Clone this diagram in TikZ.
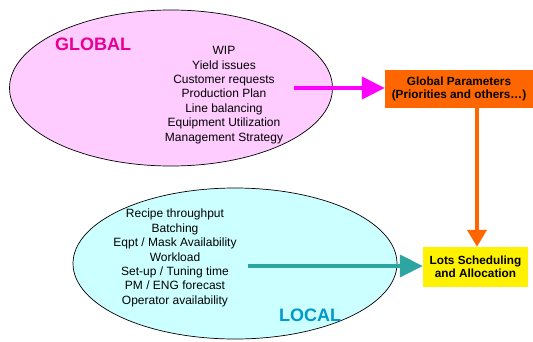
\documentclass[tikz,border=0pt]{standalone}
\usepackage{fontspec}
\setmainfont{Liberation Sans}
\usetikzlibrary{arrows.meta,shapes.geometric}
\definecolor{pinkfill}{RGB}{255,204,255}
\definecolor{cyanfill}{RGB}{204,255,255}
\definecolor{magarrow}{RGB}{255,0,255}
\definecolor{globaltxt}{RGB}{230,0,150}
\definecolor{orangebox}{RGB}{255,102,0}
\definecolor{tealarrow}{RGB}{45,165,160}
\definecolor{localtxt}{RGB}{0,153,204}
\tikzset{
  oval/.style={draw=black, line width=0.7pt, ellipse, inner sep=0pt},
  listtxt/.style={align=center, font=\fontsize{12}{14.4}\selectfont, inner sep=0pt},
  boxtxt/.style={align=center, font=\fontsize{11.8}{13.5}\selectfont\bfseries, inner sep=0pt},
  bigtxt/.style={font=\fontsize{18}{20}\selectfont\bfseries, inner sep=0pt},
  bigarrow/.style={line width=4pt, -{Triangle[length=23pt,width=22pt]}},
}
\begin{document}
\begin{tikzpicture}[x=1pt,y=-1pt]
\useasboundingbox (0,0) rectangle (533,341);
% ellipses
\node[oval, fill=pinkfill, minimum width=323pt, minimum height=156pt] (global) at (171,88) {};
\node[oval, fill=cyanfill, minimum width=324pt, minimum height=151pt] (local) at (235,263.5) {};
% labels
\node[bigtxt, text=globaltxt] (gl) at (93,44) {GLOBAL};
\node[bigtxt, text=localtxt] (ll) at (310,315) {LOCAL};
\node[listtxt] (glist) at (224,95) {WIP\\Yield issues\\Customer requests\\Production Plan\\Line balancing\\Equipment Utilization\\Management Strategy};
\node[listtxt] (llist) at (175,258) {Recipe throughput\\Batching\\Eqpt / Mask Availability\\Workload\\Set-up / Tuning time\\PM / ENG forecast\\Operator availability};
% boxes
\node[fill=orangebox, boxtxt, minimum width=148pt, minimum height=38pt] (gp) at (459,89) {Global Parameters\\(Priorities and others\ldots)};
\node[fill=yellow, boxtxt, minimum width=105pt, minimum height=40pt] (lots) at (475.5,267) {Lots Scheduling\\and Allocation};
% arrows
\coordinate (ga) at (294,88);
\coordinate (la) at (248,266);
\coordinate (ox) at (477,0);
\draw[bigarrow, draw=magarrow, fill=magarrow] (ga) -- (gp.west |- ga);
\draw[line width=4pt, draw=orangebox, fill=orangebox, -{Triangle[length=17pt,width=19pt]}] (gp.south -| ox) -- (lots.north -| ox);
\draw[bigarrow, draw=tealarrow, fill=tealarrow] (la) -- (lots.west |- la);
\end{tikzpicture}
\end{document}
